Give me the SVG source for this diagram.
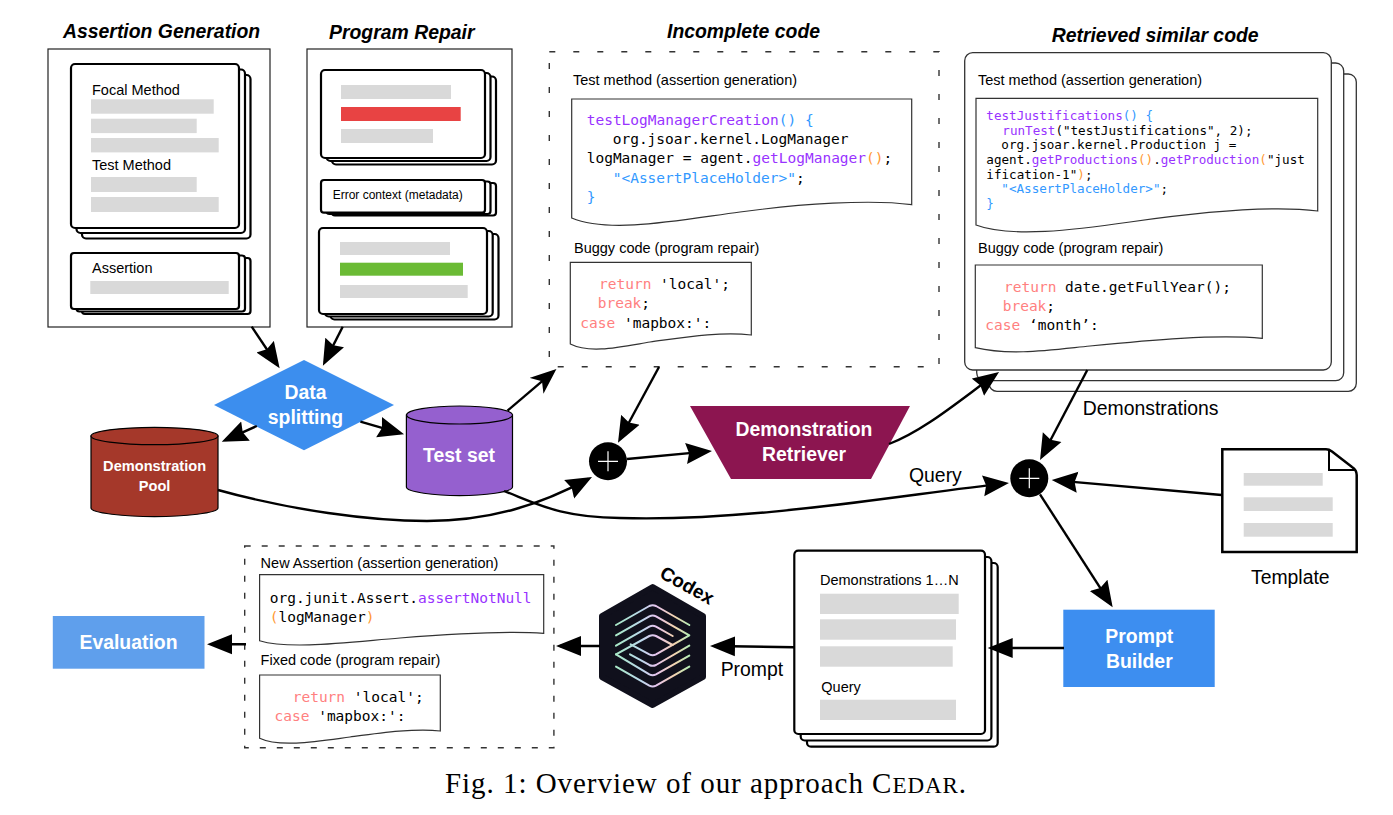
<svg xmlns="http://www.w3.org/2000/svg" width="1393" height="815" viewBox="0 0 1393 815">
<style>
text{font-family:"Liberation Sans",Arial,sans-serif;fill:#000}
.t{font-size:19.4px;font-weight:bold;font-style:italic}
.l{font-size:14.5px}
.n{font-size:19.4px}
.w{font-size:19.4px;font-weight:bold;fill:#fff;text-anchor:middle}
.c{font-family:"DejaVu Sans Mono",monospace;font-size:14.5px}
.cs{font-family:"DejaVu Sans Mono",monospace;font-size:12.6px}
.pu{fill:#9933ff}.bl{fill:#3399ff}.or{fill:#ff9933}.pk{fill:#ff8080}
.box{fill:#fff;stroke:#222;stroke-width:1.2}
.card{fill:#fff;stroke:#000;stroke-width:2.2}
.rcard{fill:#fff;stroke:#333;stroke-width:1.3}
.dash{fill:none;stroke:#333;stroke-width:1.4;stroke-dasharray:6 18}
.dash2{fill:none;stroke:#333;stroke-width:1.4;stroke-dasharray:6 11}
.doc{fill:#fff;stroke:#333;stroke-width:1.2}
.g{fill:#d9d9d9}
.cn{fill:none;stroke:#000;stroke-width:2.4}
.a{marker-end:url(#classic)}.b{marker-end:url(#block)}.o{marker-end:url(#open)}
.cyl{stroke:#000;stroke-width:1.2}
</style>
<defs>
<marker id="classic" markerUnits="userSpaceOnUse" markerWidth="28" markerHeight="22" viewBox="0 0 28 22" refX="22" refY="11" orient="auto"><path d="M0 .5L26 11L0 21.500L3 11Z" fill="#000"/></marker>
<marker id="block" markerUnits="userSpaceOnUse" markerWidth="28" markerHeight="22" viewBox="0 0 28 22" refX="21" refY="11" orient="auto"><path d="M0 1L25 11L0 21Z" fill="#000"/></marker>
<marker id="open" markerUnits="userSpaceOnUse" markerWidth="28" markerHeight="22" viewBox="0 0 28 22" refX="22" refY="11" orient="auto"><path d="M0 .5L26 11L0 21.500L7 11Z" fill="#000"/></marker>
<linearGradient id="hg" gradientUnits="userSpaceOnUse" x1="78" y1="0" x2="298" y2="0"><stop offset="0" stop-color="#a8e8c6"/><stop offset=".35" stop-color="#bcd8ec"/><stop offset=".55" stop-color="#e6c4ee"/><stop offset=".8" stop-color="#f4d4b0"/><stop offset="1" stop-color="#b4ecb4"/></linearGradient>
</defs>

<g id="assertion-generation">
<text class="t" x="63" y="38">Assertion Generation</text>
<rect class="box" x="48" y="49" width="222" height="278"/>
<rect class="card" x="82" y="75" width="168.500" height="163.500" rx="4"/>
<rect class="card" x="76.500" y="69.500" width="168.500" height="163.500" rx="4"/>
<rect class="card" x="71" y="64" width="168" height="164" rx="4"/>
<text class="l" x="92" y="95">Focal Method</text>
<rect class="g" x="91" y="99.300" width="122.700" height="14.400"/>
<rect class="g" x="91" y="118.700" width="105.700" height="14.400"/>
<rect class="g" x="91" y="138" width="127.700" height="14.400"/>
<text class="l" x="92" y="170">Test Method</text>
<rect class="g" x="91" y="177" width="105.700" height="15"/>
<rect class="g" x="91" y="197" width="127.700" height="15"/>
<rect class="card" x="82" y="258" width="168.500" height="56" rx="3"/>
<rect class="card" x="76.500" y="255.500" width="168.500" height="56" rx="3"/>
<rect class="card" x="71" y="253" width="168" height="56" rx="3"/>
<text class="l" x="92" y="273">Assertion</text>
<rect class="g" x="90.300" y="281" width="138.400" height="13"/>
</g>

<g id="program-repair">
<text class="t" x="329" y="39">Program Repair</text>
<rect class="box" x="307" y="49" width="205" height="278"/>
<rect class="card" x="332" y="76.500" width="164" height="88" rx="4"/>
<rect class="card" x="326.500" y="73" width="164" height="88" rx="4"/>
<rect class="card" x="321" y="70" width="164" height="88" rx="4"/>
<rect class="g" x="341" y="85" width="110" height="14"/>
<rect x="341" y="107" width="119.700" height="14" fill="#e84343"/>
<rect class="g" x="341" y="129" width="92" height="14"/>
<rect class="card" x="332" y="183" width="164" height="32.500" rx="3"/>
<rect class="card" x="326.500" y="181.500" width="164" height="32.500" rx="3"/>
<rect class="card" x="321" y="180" width="164" height="32.700" rx="3"/>
<text x="332.700" y="199" font-size="12">Error context (metadata)</text>
<rect class="card" x="330.500" y="234" width="168" height="85.500" rx="4"/>
<rect class="card" x="324.700" y="231" width="168" height="85.500" rx="4"/>
<rect class="card" x="319" y="228" width="168" height="86" rx="4"/>
<rect class="g" x="340" y="242" width="110" height="13"/>
<rect x="340" y="262.700" width="123" height="13" fill="#6bbb35"/>
<rect class="g" x="340" y="285" width="127.700" height="13"/>
</g>

<g id="incomplete-code">
<text class="t" x="667" y="38">Incomplete code</text>
<rect class="dash" x="549.300" y="51.700" width="389.700" height="315"/>
<text class="l" x="573" y="85">Test method (assertion generation)</text>
<path class="doc" d="M571.700 99H911.700V204.700C870 199 800 204 740 212C680 220 610 234 571.700 218Z"/>
<text class="c" x="586.700" y="125"><tspan class="pu">testLogManagerCreation</tspan><tspan class="bl">() {</tspan></text>
<text class="c" x="612.700" y="144.300">org.jsoar.kernel.LogManager</text>
<text class="c" x="586.700" y="163">logManager = agent.<tspan class="pu">getLogManager</tspan><tspan class="or">()</tspan>;</text>
<text class="c" x="612.700" y="183"><tspan class="bl">"&lt;AssertPlaceHolder&gt;"</tspan>;</text>
<text class="c bl" x="586.700" y="201.700">}</text>
<text class="l" x="574" y="253">Buggy code (program repair)</text>
<path class="doc" d="M570.300 262.300H751.300V335C720 331 680 338 650 342C620 347 590 354 570.300 344Z"/>
<text class="c" x="599" y="288.700"><tspan class="pk">return</tspan> 'local';</text>
<text class="c" x="597.700" y="307.700"><tspan class="pk">break</tspan>;</text>
<text class="c" x="580.300" y="327.700"><tspan class="pk">case</tspan> 'mapbox:':</text>
</g>

<g id="retrieved-similar-code">
<text class="t" x="1051.700" y="42">Retrieved similar code</text>
<rect class="rcard" x="989" y="74" width="367.300" height="317.300" rx="8"/>
<rect class="rcard" x="976.700" y="63" width="367" height="317.700" rx="8"/>
<rect class="rcard" x="964.700" y="52.700" width="366.600" height="317.300" rx="8"/>
<text class="l" x="978" y="85">Test method (assertion generation)</text>
<path class="doc" d="M976 98.300H1317.700V211C1270 205 1200 212 1130 222C1075 230 1010 238 976 225Z"/>
<text class="cs" x="986.300" y="120"><tspan class="pu">testJustifications</tspan><tspan class="bl">() {</tspan></text>
<text class="cs" x="1002.300" y="135"><tspan class="pu">runTest</tspan>("testJustifications", 2);</text>
<text class="cs" x="1001.300" y="149.300">org.jsoar.kernel.Production j =</text>
<text class="cs" x="986.300" y="164.300">agent.<tspan class="pu">getProductions</tspan><tspan class="or">()</tspan>.<tspan class="pu">getProduction</tspan><tspan class="or">(</tspan>"just</text>
<text class="cs" x="986.300" y="179">ification-1"<tspan class="or">)</tspan>;</text>
<text class="cs" x="1001.300" y="193"><tspan class="bl">"&lt;AssertPlaceHolder&gt;"</tspan>;</text>
<text class="cs bl" x="986.300" y="207.700">}</text>
<text class="l" x="978" y="253">Buggy code (program repair)</text>
<path class="doc" d="M975.300 265H1262.300V338.300C1215 334 1150 340 1090 346C1050 350 1010 356 975.300 347.700Z"/>
<text class="c" x="1004" y="292"><tspan class="pk">return</tspan> date.getFullYear();</text>
<text class="c" x="1002.700" y="311"><tspan class="pk">break</tspan>;</text>
<text class="c" x="985.300" y="330"><tspan class="pk">case</tspan> ‘month’:</text>
</g>

<g id="data-splitting">
<path d="M304 360L394 405L304 450.300L214 405Z" fill="#3c8eee"/>
<text class="w" x="305.500" y="399">Data</text>
<text class="w" x="305.500" y="424">splitting</text>
</g>

<g id="demonstration-pool">
<path class="cyl" d="M91 436V508C91 513 125 516.700 154.500 516.700C184 516.700 218 513 218 508V436Z" fill="#a5382a"/>
<ellipse class="cyl" cx="154.500" cy="436" rx="63.500" ry="8.700" fill="#a5382a"/>
<text class="w" x="154.600" y="470.700" style="font-size:14.600px">Demonstration</text>
<text class="w" x="154.600" y="490.700" style="font-size:14.600px">Pool</text>
</g>

<g id="test-set">
<path class="cyl" d="M406.400 415V487C406.400 492 435 495.700 459.500 495.700C484 495.700 512.500 492 512.500 487V415Z" fill="#9560cf"/>
<ellipse class="cyl" cx="459.500" cy="415" rx="53" ry="9" fill="#9560cf"/>
<text class="w" x="459" y="462.300">Test set</text>
</g>

<g id="combine-1">
<circle cx="608" cy="461.300" r="19"/>
<path d="M598 461.300H618M608 451.300V471.300" stroke="#fff" stroke-width="1.200" fill="none"/>
</g>

<g id="demonstration-retriever">
<path d="M690 406H910L871 479H731Z" fill="#8c1550"/>
<text class="w" x="804" y="436">Demonstration</text>
<text class="w" x="804" y="461">Retriever</text>
</g>

<g id="labels">
<text class="n" x="1082.700" y="414.500">Demonstrations</text>
<text class="n" x="909" y="482">Query</text>
<text class="n" x="720.700" y="675.700">Prompt</text>
</g>

<g id="combine-2">
<circle cx="1029.300" cy="478.300" r="19"/>
<path d="M1019.300 478.300H1039.300M1029.300 468.300V488.300" stroke="#fff" stroke-width="1.200" fill="none"/>
</g>

<g id="template">
<path d="M1222.300 449.300H1326Q1329 449.300 1332 451.500L1352 467Q1356.700 470 1356.700 475V552H1222.300Z" fill="#fff" stroke="#000" stroke-width="2.500"/>
<path d="M1329 450V470H1356" fill="none" stroke="#000" stroke-width="2"/>
<rect class="g" x="1243.700" y="473" width="79" height="12.700"/>
<rect class="g" x="1243.700" y="497.300" width="89" height="13.700"/>
<rect class="g" x="1243.700" y="523" width="89" height="13.700"/>
<text class="n" x="1290.300" y="584.300" text-anchor="middle">Template</text>
</g>

<g id="prompt-builder">
<rect x="1063.300" y="609.700" width="151.400" height="77.300" fill="#3d8ef0"/>
<text class="w" x="1139.300" y="643">Prompt</text>
<text class="w" x="1139.300" y="668">Builder</text>
</g>

<g id="prompt-document">
<rect class="card" x="807" y="563" width="190.700" height="183.700" rx="4"/>
<rect class="card" x="800.700" y="557" width="190.700" height="183.500" rx="4"/>
<rect class="card" x="794.300" y="550.700" width="190.700" height="183.300" rx="4"/>
<text class="l" x="820" y="585">Demonstrations 1…N</text>
<rect class="g" x="820" y="593.700" width="138.700" height="20.300"/>
<rect class="g" x="820" y="619.300" width="136" height="20.400"/>
<rect class="g" x="820" y="646.300" width="132.700" height="20.400"/>
<text class="l" x="821.300" y="691.700">Query</text>
<rect class="g" x="820" y="699.700" width="136" height="20.300"/>
</g>

<g id="codex">
<path d="M652.700 587L703 616V677L652.700 705L602 677V616Z" fill="#10101c" stroke="#10101c" stroke-width="6" stroke-linejoin="round"/>
<g transform="translate(590 555) scale(.33333)" fill="none" stroke="url(#hg)" stroke-width="6" stroke-linecap="round" stroke-linejoin="round">
<path d="M78 210L178 153Q188 148 198 153L298 210"/>
<path d="M78 241L178 184Q188 179 198 184L298 241L198 298Q188 303 178 298L122 268"/>
<path d="M78 272L178 215Q188 210 198 215L248 243"/>
<path d="M78 298L178 243Q188 238 198 243L248 270"/>
<path d="M298 272L198 330Q188 335 178 330L120 298"/>
<path d="M78 298L178 358Q188 363 198 358L298 302"/>
<path d="M78 335L178 392Q188 397 198 392L298 335"/>
</g>
<text transform="translate(684 591) rotate(29)" text-anchor="middle" font-size="19" font-weight="bold">Codex</text>
</g>

<g id="output">
<rect class="dash2" x="244.700" y="546" width="309.200" height="201.700"/>
<text class="l" x="260.600" y="567.700">New Assertion (assertion generation)</text>
<path class="doc" d="M259.600 574.700H543.700V633.300C510 631 450 634 400 638C350 642 290 650 259.600 640.700Z"/>
<text class="c" x="269.700" y="602.700">org.junit.Assert.<tspan class="pu">assertNotNull</tspan></text>
<text class="c" x="269.700" y="622.300"><tspan class="or">(</tspan>logManager<tspan class="or">)</tspan></text>
<text class="l" x="260.600" y="665">Fixed code (program repair)</text>
<path class="doc" d="M259.600 675H440.300V731C415 728 380 733 350 737C320 741 280 748 259.600 738.300Z"/>
<text class="c" x="292.700" y="701.700"><tspan class="pk">return</tspan> 'local';</text>
<text class="c" x="274.500" y="721"><tspan class="pk">case</tspan> 'mapbox:':</text>
</g>

<g id="evaluation">
<rect x="52.800" y="616" width="151.700" height="52.700" fill="#5f9fec"/>
<text class="w" x="128.500" y="649">Evaluation</text>
</g>

<g id="connectors">
<path class="cn a" d="M251.700 326.700L277.400 365"/>
<path class="cn a" d="M342.700 326.700L324.700 362.100"/>
<path class="cn a" d="M256.800 426L225.400 440.100"/>
<path class="cn a" d="M360.400 421.700L400.200 433.200"/>
<path class="cn o" d="M507.500 410.700L553.400 371.600"/>
<path class="cn a" d="M218 490C290 510 370 521 427 521C490 521 540 505 588.500 478.900"/>
<path class="cn a" d="M504 491C540 505 560 517 620 518C750 522 900 495 1005 483.400"/>
<path class="cn a" d="M659 367L619.900 439.200"/>
<path class="cn a" d="M627 459L708 451.400"/>
<path class="cn a" d="M889 444C925 430 960 400 995.800 374.300"/>
<path class="cn a" d="M1087.300 370L1041.900 456.500"/>
<path class="cn a" d="M1221.700 495L1055.700 480.400"/>
<path class="cn a" d="M1040 494.300L1110.500 603.900"/>
<path class="cn b" d="M1064 648L991.700 648"/>
<path class="cn b" d="M794 647.300L714 646"/>
<path class="cn b" d="M600 646L560 646"/>
<path class="cn b" d="M246 644.300L211 644.300"/>
</g>

<text x="445" y="793" font-size="29" letter-spacing=".96" style="font-family:'Liberation Serif',serif">Fig. 1: Overview of our approach C<tspan font-size="23">EDAR</tspan>.</text>
</svg>
